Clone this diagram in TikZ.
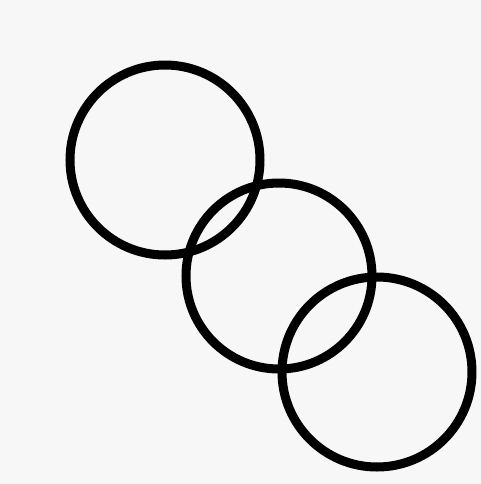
\documentclass[tikz,border=0pt]{standalone}
\begin{document}
\begin{tikzpicture}[x=0.5pt,y=-0.5pt,declare function={r=95;}]
        \fill[black!3] (0,0) rectangle (481,484);
        \useasboundingbox (0,0) rectangle (481,484);
        \coordinate (A) at (165,160);
        \coordinate (B) at (279,276);
        \coordinate (C) at (377,372);
        \draw[line width=4.5pt] (A) circle (r);
        \draw[line width=4.5pt] (B) circle (r-2);
        \draw[line width=4.5pt] (C) circle (r);
    \end{tikzpicture}
\end{document}
